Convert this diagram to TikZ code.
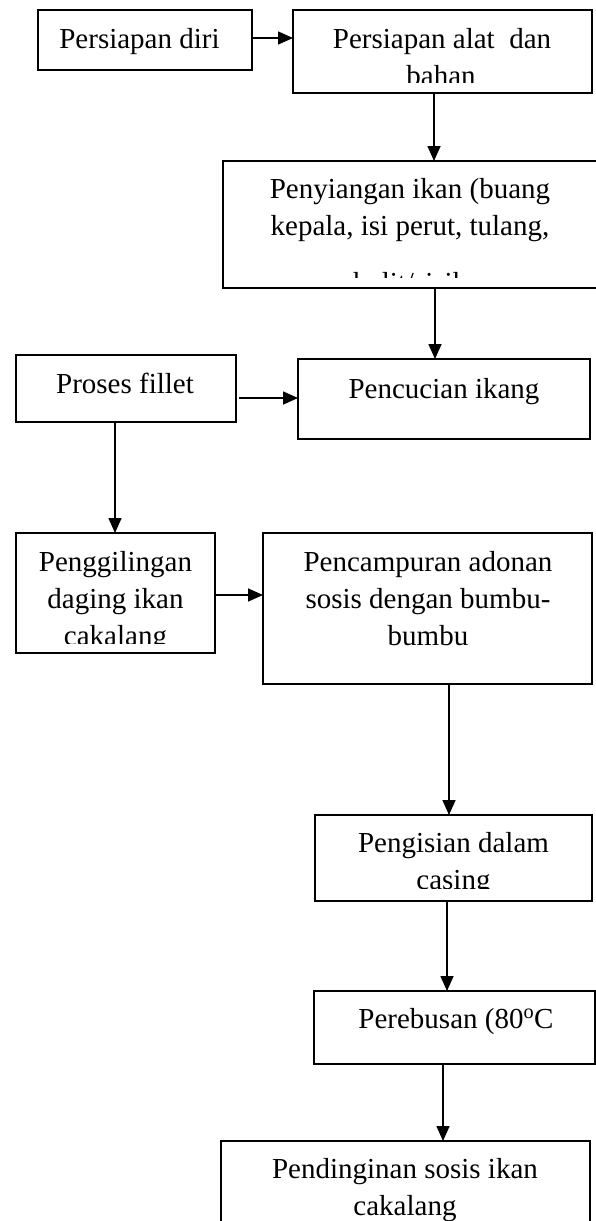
\documentclass[tikz,border=0pt]{standalone}
\usepackage{fontspec}
\setmainfont{Liberation Serif}
\usetikzlibrary{arrows.meta}
\begin{document}
\begin{tikzpicture}[x=1pt,y=-1pt,
  box/.style={draw, line width=1.6pt, rectangle, inner sep=0pt, outer sep=0pt, anchor=north west},
  txt/.style={inner sep=0pt, anchor=base, font=\fontsize{29}{37}\selectfont},
  arr/.style={line width=1.6pt, -{Triangle[length=15pt,width=13pt]}}]
\useasboundingbox (0,0) rectangle (596,1221);
% boxes
\node[box, minimum width=214pt, minimum height=60pt]  (b1)  at (38,10) {};
\node[box, minimum width=299pt, minimum height=83pt]  (b2)  at (293,10) {};
\node[box, minimum width=377pt, minimum height=127pt] (b3)  at (223,161) {};
\node[box, minimum width=220pt, minimum height=67pt]  (b4)  at (16,355) {};
\node[box, minimum width=292pt, minimum height=80pt]  (b5)  at (298,359) {};
\node[box, minimum width=199pt, minimum height=120pt] (b6)  at (16,533) {};
\node[box, minimum width=329pt, minimum height=151pt] (b7)  at (263,533) {};
\node[box, minimum width=277pt, minimum height=86pt]  (b8)  at (315,815) {};
\node[box, minimum width=281pt, minimum height=73pt]  (b9)  at (314,991) {};
\node[box, minimum width=369pt, minimum height=95pt]  (b10) at (221,1141) {};
% texts
\node[txt] (t1)  at (139.5,48) {Persiapan diri};
\node[txt] (t2a) at (442,48) {Persiapan alat~~dan};
\begin{scope}
  \clip (b2.north west) rectangle (b2.east |- 0,82);
  \node[txt] (t2b) at (441,85) {bahan};
\end{scope}
\node[txt] (t3a) at (410,198) {Penyiangan ikan (buang};
\node[txt] (t3b) at (410,235) {kepala, isi perut, tulang,};
\begin{scope}
  \clip (b3.north west) rectangle (b3.east |- 0,277);
  \node[txt] (t3c) at (410,292) {kulit/sisik};
\end{scope}
\node[txt] (t4)  at (125,393) {Proses fillet};
\node[txt] (t5)  at (444,398) {Pencucian ikang};
\node[txt] (t6a) at (115.5,571) {Penggilingan};
\node[txt] (t6b) at (115.5,608) {daging ikan};
\begin{scope}
  \clip (b6.north west) rectangle (b6.east |- 0,643);
  \node[txt] (t6c) at (115.5,645) {cakalang};
\end{scope}
\node[txt] (t7a) at (428,571) {Pencampuran adonan};
\node[txt] (t7b) at (428,608) {sosis dengan bumbu-};
\node[txt] (t7c) at (428,645) {bumbu};
\node[txt] (t8a) at (453.5,852) {Pengisian dalam};
\begin{scope}
  \clip (b8.north west) rectangle (b8.east |- 0,888);
  \node[txt] (t8b) at (453.5,889) {casing};
\end{scope}
\node[txt] (t9)  at (456,1028) {Perebusan (80\textsuperscript{o}C};
\node[txt] (t10a) at (405,1178) {Pendinginan sosis ikan};
\node[txt] (t10b) at (405,1215) {cakalang};
% connectors
\draw[arr] ([yshift=2pt]b1.east) -- ([yshift=2pt]b1.east -| b2.west);
\draw[arr] (434,0 |- b2.south) -- (434,0 |- b3.north);
\draw[arr] (435,0 |- b3.south) -- (435,0 |- b5.north);
\draw[arr] ([xshift=3pt]b4.east |- 0,398) -- (b5.west |- 0,398);
\draw[arr] (115,0 |- b4.south) -- (115,0 |- b6.north);
\draw[arr] (b6.east |- 0,595) -- (b7.west |- 0,595);
\draw[arr] (449,0 |- b7.south) -- (449,0 |- b8.north);
\draw[arr] (447,0 |- b8.south) -- (447,0 |- b9.north);
\draw[arr] (443,0 |- b9.south) -- (443,0 |- b10.north);
\end{tikzpicture}
\end{document}
